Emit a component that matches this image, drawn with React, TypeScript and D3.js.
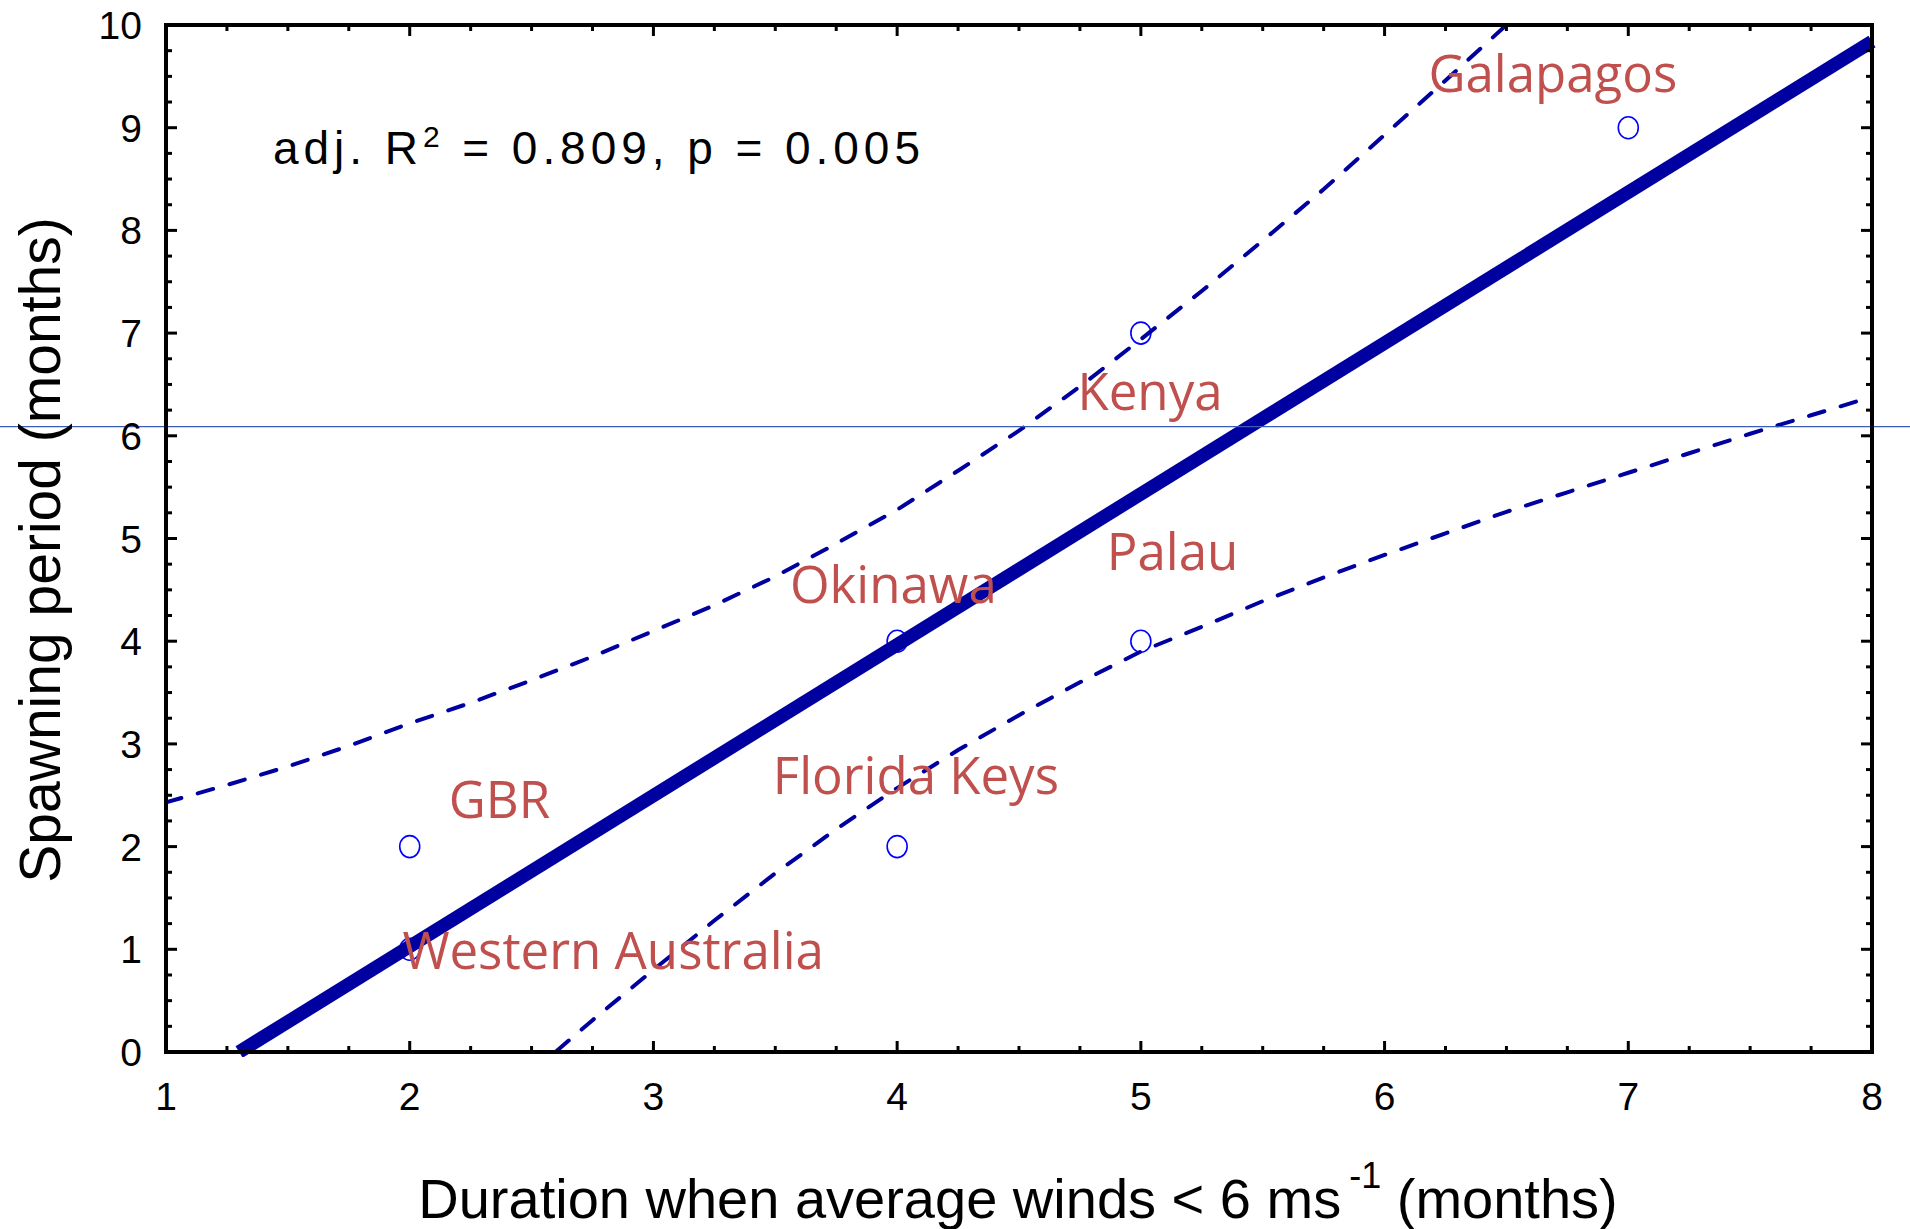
import * as d3 from "d3";

// sites and their values
const sites = ["GBR", "Western Australia", "Florida Keys", "Okinawa", "Palau", "Kenya", "Galapagos"];
const duration = [2, 2, 4, 4, 5, 5, 7];
const spawning = [2, 1, 2, 4, 4, 7, 9];
// where each site name sits, in data units
const labelX = [2.16, 1.97, 3.49, 3.56, 4.86, 4.74, 6.18];
const labelY = [2.28, 0.81, 2.51, 4.37, 4.69, 6.25, 9.35];

// fitted line end points
const fitX = [1.3, 8.0];
const fitY = [0.0, 9.84];

// 95% band
const upperX = [1, 1.25, 1.5, 1.75, 2, 2.25, 2.5, 2.75, 3, 3.25, 3.5, 3.75, 4, 4.25, 4.5, 4.75, 5, 5.25, 5.5, 5.75, 6, 6.25, 6.5];
const upperY = [2.43, 2.6, 2.78, 2.98, 3.2, 3.4, 3.62, 3.85, 4.1, 4.35, 4.63, 4.95, 5.28, 5.66, 6.05, 6.48, 6.94, 7.41, 7.9, 8.4, 8.93, 9.46, 10.0];
const lowerX = [2.5, 2.75, 3, 3.25, 3.5, 3.75, 4, 4.25, 4.5, 4.75, 5, 5.25, 5.5, 5.75, 6, 6.25, 6.5, 6.75, 7, 7.25, 7.5, 7.75, 8];
const lowerY = [-0.2, 0.31, 0.8, 1.28, 1.74, 2.17, 2.57, 2.94, 3.28, 3.6, 3.9, 4.14, 4.39, 4.62, 4.84, 5.05, 5.26, 5.45, 5.64, 5.83, 6.02, 6.2, 6.38];

const refLineY = 6.09;

const xTicks = [1, 2, 3, 4, 5, 6, 7, 8];
const yTicks = [0, 1, 2, 3, 4, 5, 6, 7, 8, 9, 10];

const W = 1910, H = 1229;
const m = { left: 166, right: 1872, top: 25, bottom: 1052 };

export default function App() {
  const x = d3.scaleLinear([1, 8], [m.left, m.right]);
  const y = d3.scaleLinear([0, 10], [m.bottom, m.top]);
  const line = d3.line<number>().x((d) => x(d[0])).y((d) => y(d[1]));

  const upper = line(upperX.map((v, i) => [v, upperY[i]]) as any);
  const lower = line(lowerX.map((v, i) => [v, lowerY[i]]) as any);
  const fit = line(fitX.map((v, i) => [v, fitY[i]]) as any);

  const xMinor = d3.range(1, 8.001, 0.25);
  const yMinor = d3.range(0, 10.001, 0.25);
  const axisFont = "'Liberation Sans', Arial, sans-serif";

  return (
    <svg width={W} height={H} style={{ position: "absolute", left: 0, top: 0, background: "#fff" }}>
      <defs>
        <clipPath id="plot">
          <rect x={m.left} y={m.top} width={m.right - m.left + 6} height={m.bottom - m.top + 5} />
        </clipPath>
      </defs>

      {/* points */}
      <g fill="none" stroke="#0000ff" strokeWidth={1.6}>
        {duration.map((d, i) => (
          <ellipse key={i} cx={x(d)} cy={y(spawning[i])} rx={10} ry={11} />
        ))}
      </g>

      <g clipPath="url(#plot)" fill="none" stroke="#0000a0">
        <path d={upper!} strokeWidth={4} strokeDasharray="16 17" strokeLinecap="round" />
        <path d={lower!} strokeWidth={4} strokeDasharray="16 17" strokeLinecap="round" />
        <path d={fit!} strokeWidth={13.5} />
      </g>

      <line x1={0} x2={W} y1={y(refLineY)} y2={y(refLineY)} stroke="#3a5cb8" strokeWidth={1.3} />

      {/* frame */}
      <rect x={m.left} y={m.top} width={m.right - m.left} height={m.bottom - m.top} fill="none" stroke="#000" strokeWidth={4} />
      <g stroke="#000" strokeWidth={3}>
        {xMinor.map((t) => {
          const len = Number.isInteger(t) ? 11 : 6;
          return (
            <g key={"x" + t}>
              <line x1={x(t)} x2={x(t)} y1={m.bottom} y2={m.bottom - len} />
              <line x1={x(t)} x2={x(t)} y1={m.top} y2={m.top + len} />
            </g>
          );
        })}
        {yMinor.map((t) => {
          const len = Number.isInteger(t) ? 11 : 6;
          return (
            <g key={"y" + t}>
              <line x1={m.left} x2={m.left + len} y1={y(t)} y2={y(t)} />
              <line x1={m.right} x2={m.right - len} y1={y(t)} y2={y(t)} />
            </g>
          );
        })}
      </g>

      <g fontFamily={axisFont} fontSize={39} fill="#000">
        {xTicks.map((t) => (
          <text key={t} x={x(t)} y={1110} textAnchor="middle">{t}</text>
        ))}
        {yTicks.map((t) => (
          <text key={t} x={142} y={y(t) + 14} textAnchor="end">{t}</text>
        ))}
      </g>

      <text x={1018} y={1218} textAnchor="middle" fontFamily={axisFont} fontSize={56} fill="#000">
        Duration when average winds &lt; 6 ms
        <tspan fontSize={36} dx={8} dy={-30}>-1</tspan>
        <tspan dy={30}> (months)</tspan>
      </text>
      <text transform={`translate(60,550) rotate(-90)`} textAnchor="middle" fontFamily={axisFont} fontSize={57} fill="#000">
        Spawning period (months)
      </text>

      <text x={273} y={164} fontFamily={axisFont} fontSize={46} fill="#000" textLength={647} lengthAdjust="spacing">
        adj. R<tspan fontSize={30} dy={-17}>2</tspan><tspan dy={17}> = 0.809, p = 0.005</tspan>
      </text>

      <g fontFamily="'Open Sans', sans-serif" fontSize={51} fill="#c0504d">
        {sites.map((s, i) => (
          <text key={s} x={x(labelX[i])} y={y(labelY[i])}>{s}</text>
        ))}
      </g>
    </svg>
  );
}
